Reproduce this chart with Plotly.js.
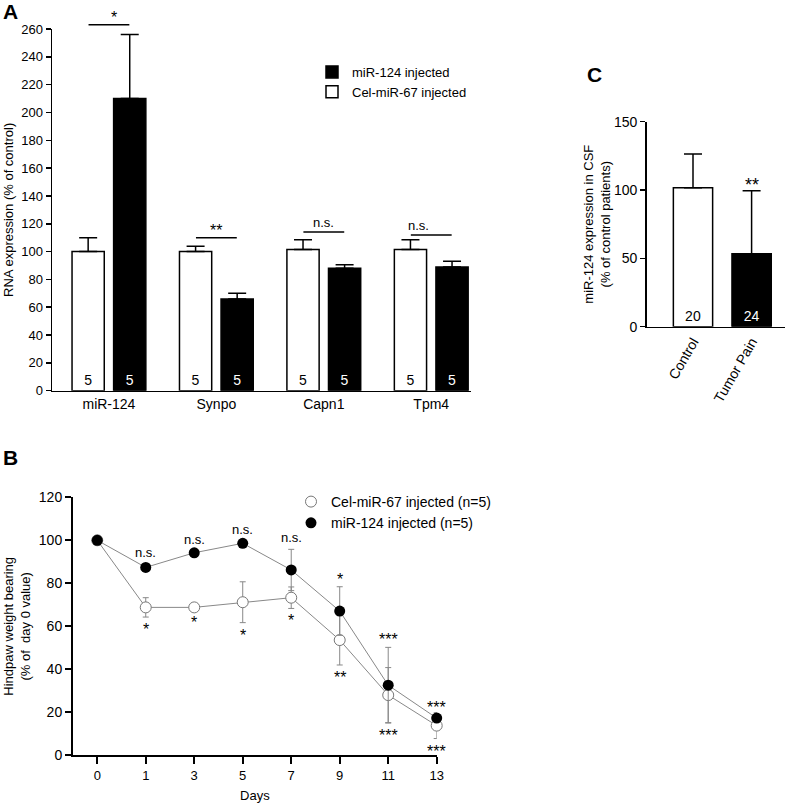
<!DOCTYPE html>
<html>
<head>
<meta charset="utf-8">
<script src="https://cdn.plot.ly/plotly-3.0.1.min.js"></script>
<style>html,body{margin:0;padding:0;background:#fff;}#chart{width:787px;height:803px;}</style>
</head>
<body>
<div id="chart"></div>
<script>
// ---- Panel A data ----
const catsA = ['miR-124', 'Synpo', 'Capn1', 'Tpm4'];
const celA = [100, 100, 101.5, 101.5];
const celAErr = [10, 3.8, 7, 7];
const mirA = [210, 66, 88, 89];
const mirAErr = [46, 4, 2.5, 4];
const nCelA = ['5', '5', '5', '5'];
const nMirA = ['5', '5', '5', '5'];
const sigA = ['*', '**', 'n.s.', 'n.s.'];
const sigAY = [263, 110, 114, 112];

// ---- Panel C data ----
const catsC = ['Control', 'Tumor Pain'];
const valC = [101.7, 53.4];
const errC = [24.7, 46];
const nC = ['20', '24'];
const sigC = ['', '**'];

// ---- Panel B data ----
const days = ['0', '1', '3', '5', '7', '9', '11', '13'];
const celB = [100, 68.8, 68.8, 71.2, 73.3, 53.6, 28.0, 13.8];
const celBErr = [2, 4.5, 1, 9.5, 5, 11.6, 12.8, 6];
const mirB = [100, 87.4, 94.2, 98.6, 86.2, 67.1, 32.6, 17.3];
const mirBErr = [2, 1.5, 1, 1, 9.6, 11.3, 17.6, 1.5];
const sigBUp = ['', 'n.s.', 'n.s.', 'n.s.', 'n.s.', '*', '***', '***'];
const sigBDown = ['', '*', '*', '*', '*', '**', '***', '***'];

const FONT = 'Liberation Sans, Arial, sans-serif';
const zeros = a => a.map(() => 0);

const rangeXA = [-0.53, 3.37];
const rangeYA = [0, 260];

const traces = [
  {
    type: 'bar', x: catsA, y: celA, xaxis: 'x', yaxis: 'y',
    name: 'Cel-miR-67 injected', legend: 'legend',
    marker: {color: '#ffffff', line: {color: '#000', width: 1.5}},
    error_y: {type: 'data', symmetric: false, array: celAErr, arrayminus: zeros(celAErr), color: '#000', thickness: 1.5, width: 9},
    text: nCelA, textposition: 'inside', insidetextanchor: 'start', textangle: 0,
    textfont: {family: FONT, size: 14, color: '#000'}, cliponaxis: false
  },
  {
    type: 'bar', x: catsA, y: mirA, xaxis: 'x', yaxis: 'y',
    name: 'miR-124 injected', legend: 'legend',
    marker: {color: '#000000', line: {color: '#000', width: 1.5}},
    error_y: {type: 'data', symmetric: false, array: mirAErr, arrayminus: zeros(mirAErr), color: '#000', thickness: 1.5, width: 9},
    text: nMirA, textposition: 'inside', insidetextanchor: 'start', textangle: 0,
    textfont: {family: FONT, size: 14, color: '#fff'}, cliponaxis: false
  },
  {
    type: 'bar', x: catsC, y: valC, xaxis: 'x3', yaxis: 'y3', showlegend: false, width: 0.67,
    marker: {color: ['#ffffff', '#000000'], line: {color: '#000', width: 1.5}},
    error_y: {type: 'data', symmetric: false, array: errC, arrayminus: zeros(errC), color: '#000', thickness: 1.5, width: 9},
    text: nC, textposition: 'inside', insidetextanchor: 'start', textangle: 0,
    textfont: {family: FONT, size: 14, color: ['#000', '#fff']}, cliponaxis: false
  },
  // Panel B lines (no legend)
  {
    type: 'scatter', mode: 'lines', x: days, y: celB, xaxis: 'x2', yaxis: 'y2', showlegend: false,
    line: {color: '#888', width: 1}, hoverinfo: 'skip'
  },
  {
    type: 'scatter', mode: 'lines', x: days, y: mirB, xaxis: 'x2', yaxis: 'y2', showlegend: false,
    line: {color: '#888', width: 1}, hoverinfo: 'skip'
  },
  // Panel B markers
  {
    type: 'scatter', mode: 'markers', x: days, y: celB, xaxis: 'x2', yaxis: 'y2',
    name: 'Cel-miR-67 injected (n=5)', legend: 'legend2',
    marker: {symbol: 'circle', size: 11, color: '#fff', line: {color: '#777', width: 1}},
    error_y: {type: 'data', array: celBErr, color: '#888', thickness: 1, width: 3}, cliponaxis: false
  },
  {
    type: 'scatter', mode: 'markers', x: days, y: mirB, xaxis: 'x2', yaxis: 'y2',
    name: 'miR-124 injected (n=5)', legend: 'legend2',
    marker: {symbol: 'circle', size: 11, color: '#000', line: {color: '#000', width: 0}},
    error_y: {type: 'data', array: mirBErr, color: '#888', thickness: 1, width: 3}, cliponaxis: false
  }
];

const annotations = [];
const shapes = [];

// Panel letters
[['A', 10, 12], ['B', 10, 458], ['C', 594, 74]].forEach(([t, px, py]) => {
  annotations.push({text: '<b>' + t + '</b>', xref: 'paper', yref: 'paper', x: px / 787, y: 1 - py / 803,
    xanchor: 'center', yanchor: 'middle', showarrow: false, font: {family: FONT, size: 21, color: '#000'}});
});

// Panel A significance (domain-relative so the top bracket can sit above the axis range)
const fx = v => (v - rangeXA[0]) / (rangeXA[1] - rangeXA[0]);
const fy = v => (v - rangeYA[0]) / (rangeYA[1] - rangeYA[0]);
sigA.forEach((s, i) => {
  shapes.push({type: 'line', xref: 'x domain', yref: 'y domain', x0: fx(i - 0.19), x1: fx(i + 0.19),
    y0: fy(sigAY[i]), y1: fy(sigAY[i]), line: {color: '#000', width: 1.5}});
  const isStar = s !== 'n.s.';
  annotations.push({text: s, xref: 'x domain', yref: 'y domain', x: fx(i), y: fy(sigAY[i]), yanchor: 'bottom',
    yshift: isStar ? -3 : 0, showarrow: false, font: {family: FONT, size: isStar ? 16 : 13, color: '#000'}});
});

// Panel C significance
sigC.forEach((s, i) => {
  if (!s) return;
  annotations.push({text: s, xref: 'x3', yref: 'y3', x: i, y: valC[i] + errC[i], yanchor: 'bottom', yshift: -6,
    showarrow: false, font: {family: FONT, size: 18, color: '#000'}});
});

// Panel B significance
days.forEach((d, i) => {
  if (sigBUp[i]) {
    const isStar = sigBUp[i] !== 'n.s.';
    annotations.push({text: sigBUp[i], xref: 'x2', yref: 'y2', x: i, y: mirB[i] + mirBErr[i],
      yanchor: 'bottom', yshift: isStar ? -3 : 2, showarrow: false,
      font: {family: FONT, size: isStar ? 16 : 13, color: '#000'}});
  }
  if (sigBDown[i]) {
    annotations.push({text: sigBDown[i], xref: 'x2', yref: 'y2', x: i, y: celB[i] - celBErr[i],
      yanchor: 'top', yshift: -2, showarrow: false,
      font: {family: FONT, size: 16, color: '#000'}});
  }
});

const axisCommon = {
  showline: true, linecolor: '#000', linewidth: 1.5, showgrid: false, zeroline: false,
  tickfont: {family: FONT, size: 13, color: '#000'}, tickcolor: '#000'
};

const layout = {
  width: 787, height: 803,
  margin: {l: 0, r: 0, t: 0, b: 0},
  paper_bgcolor: '#fff', plot_bgcolor: 'rgba(0,0,0,0)',
  font: {family: FONT, color: '#000'},
  barmode: 'group', bargap: 0.226, bargroupgap: 0.225,
  xaxis: Object.assign({}, axisCommon, {
    domain: [52 / 787, 471 / 787], anchor: 'y', type: 'category', range: rangeXA,
    ticks: '', tickfont: {family: FONT, size: 14, color: '#000'}
  }),
  yaxis: Object.assign({}, axisCommon, {
    domain: [1 - 390.7 / 803, 1 - 29 / 803], anchor: 'x', range: rangeYA, dtick: 20,
    ticks: 'outside', ticklen: 5, tickwidth: 1.5,
    title: {text: 'RNA expression (% of control)', font: {family: FONT, size: 13, color: '#000'}, standoff: 4}
  }),
  xaxis3: Object.assign({}, axisCommon, {
    domain: [646.7 / 787, 785 / 787], anchor: 'y3', type: 'category', range: [-0.79, 1.57],
    ticks: '', tickangle: -60, tickfont: {family: FONT, size: 14, color: '#000'}
  }),
  yaxis3: Object.assign({}, axisCommon, {
    domain: [1 - 326.7 / 803, 1 - 121.7 / 803], anchor: 'x3', range: [0, 150], dtick: 50,
    ticks: 'outside', ticklen: 5, tickwidth: 1.5, tickfont: {family: FONT, size: 14, color: '#000'},
    title: {text: 'miR-124 expression in CSF<br>(% of control patients)', font: {family: FONT, size: 13, color: '#000'}, standoff: 0}
  }),
  xaxis2: Object.assign({}, axisCommon, {
    domain: [73 / 787, 436.7 / 787], anchor: 'y2', type: 'category', range: [-0.5, 7],
    ticks: 'outside', ticklen: 7, tickwidth: 2, linewidth: 2, tickfont: {family: FONT, size: 13, color: '#000'},
    title: {text: 'Days', font: {family: FONT, size: 13, color: '#000'}, standoff: 9}
  }),
  yaxis2: Object.assign({}, axisCommon, {
    domain: [1 - 755.3 / 803, 1 - 497.3 / 803], anchor: 'x2', range: [0, 120], dtick: 20,
    ticks: 'outside', ticklen: 6, tickwidth: 2, linewidth: 2, tickfont: {family: FONT, size: 14, color: '#000'},
    title: {text: 'Hindpaw weight bearing<br>(% of  day 0 value)', font: {family: FONT, size: 13, color: '#000'}, standoff: 5}
  }),
  legend: {
    x: 312 / 787, y: 1 - 57 / 803, xanchor: 'left', yanchor: 'top', traceorder: 'reversed',
    font: {family: FONT, size: 13, color: '#000'}, bgcolor: 'rgba(0,0,0,0)', tracegroupgap: 0
  },
  legend2: {
    x: 291 / 787, y: 1 - 486 / 803, xanchor: 'left', yanchor: 'top',
    font: {family: FONT, size: 14, color: '#000'}, bgcolor: 'rgba(0,0,0,0)', tracegroupgap: 0
  },
  annotations: annotations,
  shapes: shapes
};

Plotly.newPlot('chart', traces, layout, {displayModeBar: false, staticPlot: true});
</script>
</body>
</html>
